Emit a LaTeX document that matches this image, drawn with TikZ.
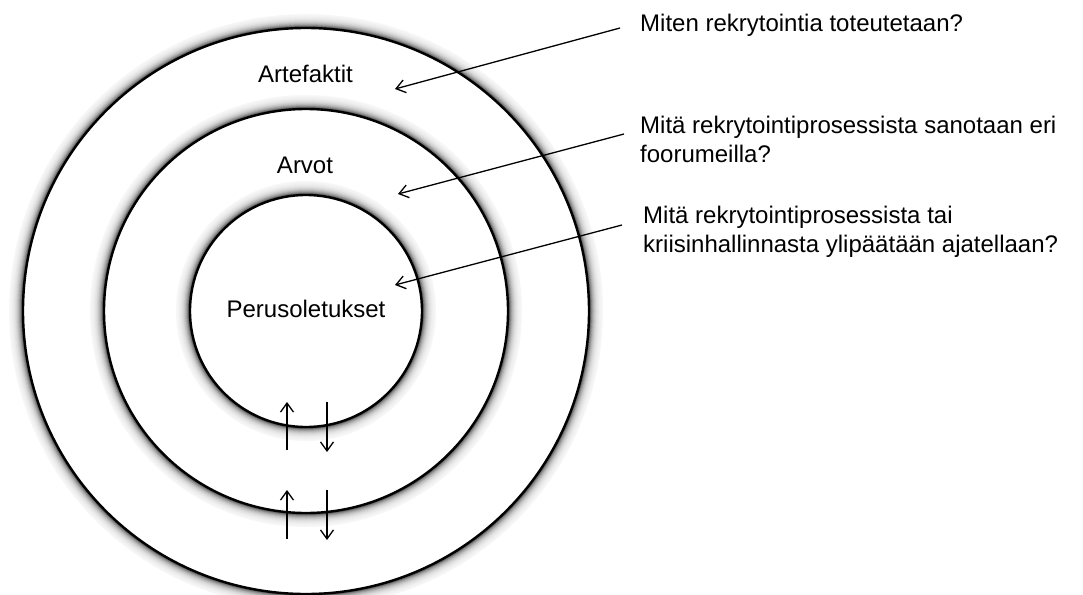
\documentclass[tikz,border=0pt]{standalone}
\usepackage{fontspec}
\setmainfont{Liberation Sans}
\usetikzlibrary{arrows.meta,positioning}

\begin{document}
\begin{tikzpicture}[x=1pt, y=-1pt,
  layer/.style={draw, line width=2.4pt, fill=white},
  layername/.style={font=\fontsize{24}{28}\selectfont, anchor=base, inner sep=0pt},
  question/.style={font=\fontsize{24}{29}\selectfont, anchor=base west, align=left, inner sep=0pt},
  arrow/.style={-{Straight Barb[length=9pt, width=13pt]}, line width=1.3pt}]
\useasboundingbox (0,0) rectangle (1083,594);
\coordinate (c) at (306,311);
% kehät varjoineen
\foreach \r in {283,202,116} {
  \foreach \k in {14,...,1} {
    \pgfmathsetmacro\sh{100*exp(-\k/4)}
    \fill[black!\sh] (c) circle[radius={(\r+\k)*1pt}];
  }
  \draw[layer] (c) circle[radius=\r pt];
}
\node[layername] (artefaktit) at (305.5,82) {Artefaktit};
\node[layername] (arvot) at (305,173) {Arvot};
\node[layername] (perus) at (306,317) {Perusoletukset};
% kysymykset
\node[question] (q1) at (640,32) {Miten rekrytointia toteutetaan?};
\node[question] (q2) at (640,162) {Mitä rekrytointiprosessista sanotaan eri\\foorumeilla?};
\node[question] (q3) at (643,252) {Mitä rekrytointiprosessista tai\\kriisinhallinnasta ylipäätään ajatellaan?};
\coordinate (s1) at (620,28);
\coordinate (t1) at (395,89);
\coordinate (s2) at (624,134);
\coordinate (t2) at (398,194);
\coordinate (s3) at (622,225);
\coordinate (t3) at (395,285);
\draw[arrow] (s1) -- (t1);
\draw[arrow] (s2) -- (t2);
\draw[arrow] (s3) -- (t3);
% nuolet kehien välillä
\coordinate (u1) at (287,450);
\coordinate (u1e) at (287,402);
\coordinate (d1) at (327,402);
\coordinate (d1e) at (327,452);
\coordinate (u2) at (287,539);
\coordinate (u2e) at (287,490);
\coordinate (d2) at (327,490);
\coordinate (d2e) at (327,540);
\draw[arrow] (u1) -- (u1e);
\draw[arrow] (d1) -- (d1e);
\draw[arrow] (u2) -- (u2e);
\draw[arrow] (d2) -- (d2e);
\end{tikzpicture}
\end{document}
